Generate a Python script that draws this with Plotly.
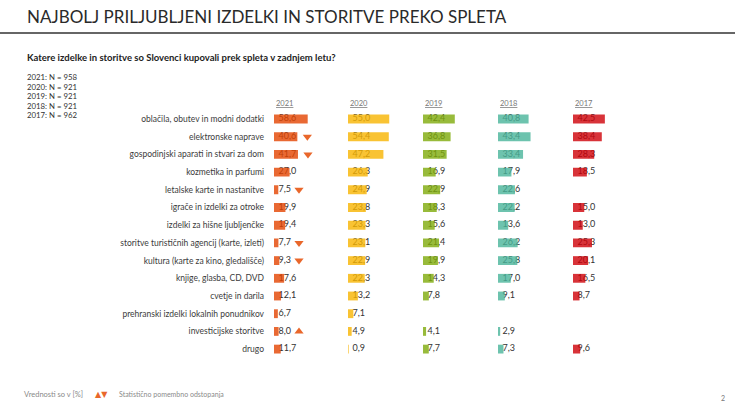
import plotly.graph_objects as go

categories = [
    "oblačila, obutev in modni dodatki",
    "elektronske naprave",
    "gospodinjski aparati in stvari za dom",
    "kozmetika in parfumi",
    "letalske karte in nastanitve",
    "igrače in izdelki za otroke",
    "izdelki za hišne ljubljenčke",
    "storitve turističnih agencij (karte, izleti)",
    "kultura (karte za kino, gledališče)",
    "knjige, glasba, CD, DVD",
    "cvetje in darila",
    "prehranski izdelki lokalnih ponudnikov",
    "investicijske storitve",
    "drugo",
]
years = ["2021", "2020", "2019", "2018", "2017"]
v2021 = [58.6, 40.6, 41.7, 27.0, 7.5, 19.9, 19.4, 7.7, 9.3, 17.6, 12.1, 6.7, 8.0, 11.7]
v2020 = [55.0, 54.4, 47.2, 26.3, 24.9, 23.8, 23.3, 23.1, 22.9, 22.3, 13.2, 7.1, 4.9, 0.9]
v2019 = [42.4, 36.8, 31.5, 16.9, 22.9, 18.3, 15.6, 21.4, 19.9, 14.3, 7.8, None, 4.1, 7.7]
v2018 = [40.8, 43.4, 33.4, 17.9, 22.6, 22.2, 13.6, 26.2, 25.8, 17.0, 9.1, None, 2.9, 7.3]
v2017 = [42.5, 38.4, 28.3, 18.5, None, 15.0, 13.0, 25.3, 20.1, 16.5, 8.7, None, None, 9.6]
# significance vs previous year for 2021: -1 down, +1 up, 0 none
trend2021 = [0, -1, -1, 0, -1, 0, 0, -1, -1, 0, 0, 0, 1, 0]
sample_sizes = ["2021: N = 958", "2020: N = 921", "2019: N = 921", "2018: N = 921", "2017: N = 962"]

title = "NAJBOLJ PRILJUBLJENI IZDELKI IN STORITVE PREKO SPLETA"
subtitle = "Katere izdelke in storitve so Slovenci kupovali prek spleta v zadnjem letu?"
footnote = "Vrednosti so v [%]"
legend_text = "Statistično pomembno odstopanja"

series = [v2021, v2020, v2019, v2018, v2017]
# semi-transparent bar fills (labels sit underneath and show through)
bar_colors = ["rgba(228,68,0,0.8)", "rgba(247,180,0,0.8)", "rgba(126,170,10,0.8)",
              "rgba(72,180,154,0.8)", "rgba(206,0,8,0.8)"]
tri_color = "#e9672b"

W, H = 736, 414
FONT = "Lato"
col_start_px = [274, 348, 423, 498, 573]
px_per_unit = [0.575, 0.75, 0.75, 0.75, 0.75]
col_w_px = 70
row_top_px, row_step_px = 119, 17.7
n = len(categories)
rows = list(range(n))

def fx(px):
    return px / W

def fy(px):
    return 1 - px / H

def fmt(v):
    return f"{v:.1f}".replace(".", ",")

fig = go.Figure()
layout_axes = {}
for i, (vals, col) in enumerate(zip(series, bar_colors)):
    base = "x" if i == 0 else f"x{i+1}"
    over = f"x{i+6}"
    rng = [0, col_w_px / px_per_unit[i]]
    dom = [fx(col_start_px[i]), fx(col_start_px[i] + col_w_px)]
    layout_axes["xaxis" if i == 0 else f"xaxis{i+1}"] = dict(
        domain=dom, range=rng, visible=False, anchor="y", fixedrange=True)
    layout_axes[f"xaxis{i+6}"] = dict(
        overlaying=base, range=rng, visible=False, anchor="y2", fixedrange=True)
    # value labels (base layer, beneath bars)
    ys = [r for r, v in zip(rows, vals) if v is not None]
    tx = [fmt(v) for v in vals if v is not None]
    fig.add_trace(go.Scatter(
        x=[4.5 / px_per_unit[i]] * len(ys), y=ys, text=tx, mode="text",
        textposition="middle right", textfont=dict(family=FONT, size=9, color="#333333"),
        xaxis=base, yaxis="y", hoverinfo="skip"))
    # bars (overlay layer, above labels)
    fig.add_trace(go.Bar(
        x=vals, y=rows, orientation="h", marker=dict(color=col, line=dict(width=0)),
        width=0.5, xaxis=over, yaxis="y2", hoverinfo="skip"))

# significance triangles for 2021
tri_x, tri_y, tri_sym = [], [], []
for r, v, t in zip(rows, v2021, trend2021):
    if t != 0:
        px = max(v * px_per_unit[0] + 10, 25)
        tri_x.append(px / px_per_unit[0])
        tri_y.append(r)
        tri_sym.append("triangle-down" if t < 0 else "triangle-up")
fig.add_trace(go.Scatter(
    x=tri_x, y=tri_y, mode="markers", xaxis="x6", yaxis="y2",
    marker=dict(symbol=tri_sym, size=8, color=tri_color, line=dict(width=0)),
    hoverinfo="skip"))

yr_top = row_top_px - row_step_px / 2
yr_bot = row_top_px + row_step_px * (n - 0.5)
ydom = [fy(yr_bot), fy(yr_top)]
layout_axes["yaxis"] = dict(
    domain=ydom, range=[n - 0.5, -0.5], tickvals=rows, ticktext=categories,
    showgrid=False, zeroline=False, showline=False, ticks="", ticklabelstandoff=9,
    tickfont=dict(family=FONT, size=8.5, color="#3c3c3c"), anchor="x", fixedrange=True)
layout_axes["yaxis2"] = dict(
    overlaying="y", range=[n - 0.5, -0.5], visible=False, anchor="x6", fixedrange=True)

annotations = []
annotations.append(dict(text=title, x=fx(25), y=fy(17), xref="paper", yref="paper",
                        xanchor="left", yanchor="middle", showarrow=False,
                        font=dict(family=FONT, size=17, color="#2a2a2a")))
annotations.append(dict(text=f"<b>{subtitle}</b>", x=fx(25), y=fy(58), xref="paper", yref="paper",
                        xanchor="left", yanchor="middle", showarrow=False,
                        font=dict(family=FONT, size=9.5, color="#222222")))
for k, s in enumerate(sample_sizes):
    annotations.append(dict(text=s, x=fx(25), y=fy(77 + k * 9.5), xref="paper", yref="paper",
                            xanchor="left", yanchor="middle", showarrow=False,
                            font=dict(family=FONT, size=7.8, color="#333333")))
for i, yr in enumerate(years):
    annotations.append(dict(text=f"<u>{yr}</u>", x=fx(col_start_px[i]), y=fy(103),
                            xref="paper", yref="paper", xanchor="left", yanchor="middle",
                            showarrow=False, font=dict(family=FONT, size=7.5, color="#777777")))
annotations.append(dict(text=footnote, x=fx(22), y=fy(394), xref="paper", yref="paper",
                        xanchor="left", yanchor="middle", showarrow=False,
                        font=dict(family=FONT, size=7.5, color="#8a8a8a")))
annotations.append(dict(text="▲▼", x=fx(93), y=fy(394), xref="paper", yref="paper",
                        xanchor="left", yanchor="middle", showarrow=False,
                        font=dict(family="DejaVu Sans", size=8, color=tri_color)))
annotations.append(dict(text=legend_text, x=fx(117), y=fy(394), xref="paper", yref="paper",
                        xanchor="left", yanchor="middle", showarrow=False,
                        font=dict(family=FONT, size=7, color="#8a8a8a")))
annotations.append(dict(text="2", x=fx(727), y=fy(398), xref="paper", yref="paper",
                        xanchor="right", yanchor="middle", showarrow=False,
                        font=dict(family=FONT, size=7, color="#777777")))

fig.update_layout(
    width=W, height=H, margin=dict(l=0, r=0, t=0, b=0),
    paper_bgcolor="white", plot_bgcolor="white", showlegend=False,
    barmode="overlay", annotations=annotations, hovermode=False,
    shapes=[dict(type="line", xref="paper", yref="paper", x0=0, x1=fx(735),
                 y0=fy(33), y1=fy(33), line=dict(color="#333333", width=1.5))],
    **layout_axes,
)
fig.write_html("out.html", config={"displayModeBar": False},
               post_script="document.body.style.margin='0';")
